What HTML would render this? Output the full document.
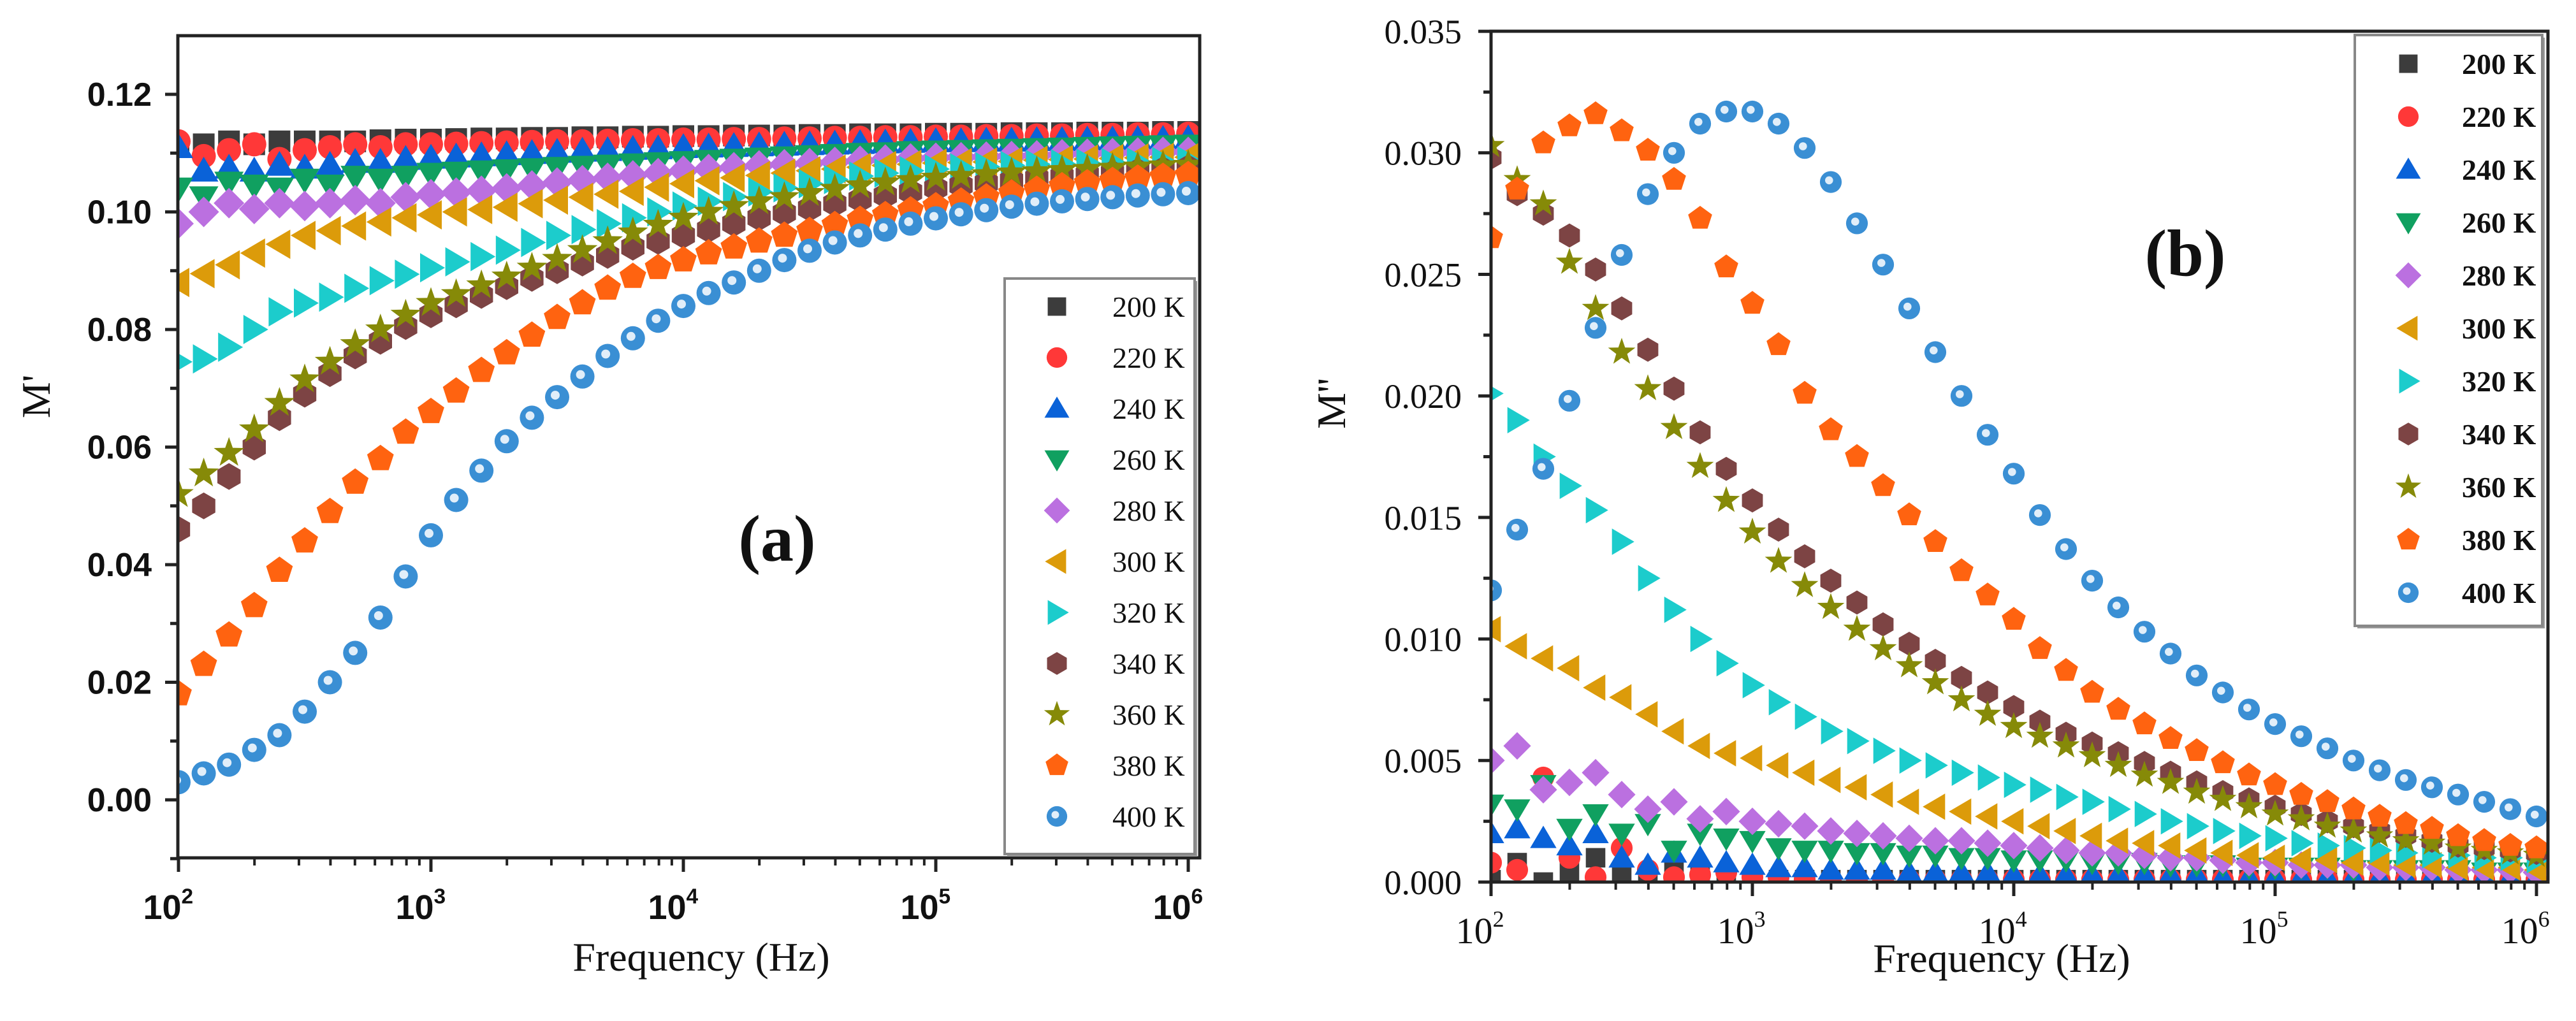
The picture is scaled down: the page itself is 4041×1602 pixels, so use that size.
<!DOCTYPE html>
<html><head><meta charset="utf-8">
<style>
html,body{margin:0;padding:0;background:#fff;}
svg{display:block;}
.sans{font-family:"Liberation Sans",Arial,sans-serif;}
.serif{font-family:"Liberation Serif","Times New Roman",serif;}
</style></head>
<body>
<svg id="fig" width="4041" height="1602" viewBox="0 0 4041 1602" xmlns="http://www.w3.org/2000/svg">
  <rect x="0" y="0" width="4041" height="1602" fill="#fff"/>
  <g id="panelA"></g>
  <g id="panelB"></g>
</svg>
<script>
// ---- shared data ----
const temps = ["200 K","220 K","240 K","260 K","280 K","300 K","320 K","340 K","360 K","380 K","400 K"];
const logFreq = [2.0,2.1,2.2,2.3,2.4,2.5,2.6,2.7,2.8,2.9,3.0,3.1,3.2,3.3,3.4,3.5,3.6,3.7,3.8,3.9,4.0,4.1,4.2,4.3,4.4,4.5,4.6,4.7,4.8,4.9,5.0,5.1,5.2,5.3,5.4,5.5,5.6,5.7,5.8,5.9,6.0];

// ---- panel (a): M' values x1000 ----
const a200 = [111,111.5,112,111.5,112,112,112,112,112.2,112.3,112.3,112.4,112.5,112.5,112.6,112.6,112.7,112.7,112.8,112.8,112.9,112.9,113,113,113,113.1,113.1,113.2,113.2,113.2,113.3,113.3,113.3,113.4,113.4,113.4,113.5,113.5,113.5,113.6,113.6];
const a220 = [112,109.5,110.5,111.5,109,110.5,111,111.5,111,111.5,111.5,111.6,111.7,111.8,111.9,112,112,112.1,112.2,112.2,112.3,112.3,112.4,112.4,112.5,112.5,112.6,112.6,112.7,112.7,112.8,112.8,112.9,112.9,113,113,113.1,113.1,113.2,113.2,113.3];
const a240 = [111,107,107.5,107,108,107.5,108,108.5,108.5,109,109.2,109.4,109.6,109.8,110,110.2,110.4,110.5,110.7,110.8,111,111.1,111.2,111.3,111.4,111.5,111.6,111.7,111.8,111.9,112,112,112.1,112.1,112.2,112.2,112.3,112.3,112.4,112.4,112.5];
const a260 = [104,102.5,105,104.5,104,105.5,104.5,106,105.5,106,106.5,106.7,106.9,107.1,107.3,107.5,107.7,107.9,108.1,108.3,108.5,108.7,108.9,109.1,109.3,109.5,109.7,109.9,110,110.2,110.3,110.4,110.5,110.6,110.7,110.8,110.9,111,111.1,111.2,111.3];
const a280 = [98,100,101.5,100.5,101.5,101,101.5,102,101.5,102.5,103,103.3,103.6,104,104.5,105,105.4,105.8,106.2,106.6,107,107.3,107.6,107.9,108.1,108.3,108.5,108.7,108.9,109.1,109.2,109.3,109.4,109.5,109.6,109.8,109.9,110,110.1,110.2,110.2];
const a300 = [88,89.5,91,93,94.5,96,96.8,97.6,98.3,99,99.5,100,100.4,100.8,101.4,102,102.5,103,103.5,104.2,104.8,105.3,105.8,106.2,106.6,107,107.3,107.6,107.9,108.1,108.3,108.4,108.5,108.6,108.8,108.9,109,109.1,109.2,109.3,109.3];
const a320 = [74.5,75,77,80,83,84.5,85.5,87,88.3,89.4,90.5,91.5,92.4,93.5,94.8,96,97,98,99,100,101,101.8,102.6,103.4,104.1,104.8,105.5,106.1,106.6,107,107.3,107.5,107.7,107.9,108.1,108.2,108.3,108.4,108.5,108.6,108.7];
const a340 = [46,50,55,60,65,69,72.5,75.5,78,80.5,82.5,84.2,85.8,87.3,88.7,90,91.3,92.6,94,95,96,97,98,99,99.8,100.6,101.4,102.1,102.8,103.4,104,104.5,104.9,105.3,105.7,106,106.3,106.6,106.9,107.2,107.5];
const a360 = [52,55.5,59,63,67.5,71.5,74.5,77.5,80,82.5,84.5,86,87.5,89,90.5,92,93.5,95,96.5,97.8,99,100,101,101.8,102.5,103.2,103.9,104.5,105,105.4,105.8,106.1,106.4,106.7,106.9,107.1,107.3,107.5,107.7,107.9,108];
const a380 = [18,23,28,33,39,44,49,54,58,62.5,66,69.5,73,76,79,82,84.5,87,89,90.5,91.8,93,94,95,96,96.8,97.8,98.7,99.5,100.3,101,101.8,102.5,103.2,103.8,104.4,104.9,105.3,105.7,106,106.3];
const a400 = [3,4.5,6,8.5,11,15,20,25,31,38,45,51,56,61,65,68.5,72,75.5,78.5,81.5,84,86.2,88,90,91.8,93.4,94.8,96,97,98,98.9,99.6,100.3,100.9,101.4,101.8,102.2,102.5,102.8,103,103.2];
const aTicksY = ["0.00","0.02","0.04","0.06","0.08","0.10","0.12"];
const aTickVals = [0,0.02,0.04,0.06,0.08,0.10,0.12];

// ---- panel (b): M'' values x10000 ----
const b200 = [1,8,0,4,10,3,2,6,2,1,1,1,1,1,1,1,1,1,1,1,1,1,1,1,1,1,1,1,1,1,1,1,1,1,1,1,1,1,1,1,1];
const b220 = [8,5,43,10,2,14,5,2,3,4,2,2,1,1,1,1,1,1,1,1,1,1,1,1,1,1,1,1,1,1,1,1,1,1,1,1,1,1,1,1,1];
const b240 = [20,22,18,15,20,10,7,12,10,8,7,6,6,5,5,5,4,4,4,4,3,3,3,3,3,3,3,3,2,2,2,2,2,2,2,2,2,2,2,2,2];
const b260 = [32,30,40,22,28,20,24,13,20,18,17,14,13,13,12,12,11,11,10,10,9,9,9,8,8,8,7,7,7,6,6,6,6,5,5,5,5,5,4,4,4];
const b280 = [50,56,38,41,45,36,30,33,26,29,25,24,23,21,20,19,18,17,17,16,15,14,13,12,12,11,10,10,9,8,8,7,7,7,6,6,6,5,5,5,4];
const b300 = [104,97,92,88,80,76,69,62,56,53,51,48,45,42,39,36,33,31,29,27,25,23,21,19,17,16,15,13,12,11,10,9,9,8,8,7,7,6,6,6,5];
const b320 = [201,190,175,163,153,140,125,112,100,90,81,74,68,62,58,54,50,48,45,43,40,38,35,33,30,28,25,23,21,19,18,16,15,14,13,12,11,11,10,10,9];
const b340 = [298,283,275,266,252,236,219,203,185,170,157,145,134,124,115,106,98,91,84,78,72,66,61,57,53,49,45,41,37,34,31,28,25,23,21,19,17,15,14,13,12];
const b360 = [303,289,279,255,236,218,203,187,171,157,144,132,122,113,104,96,89,82,75,69,64,60,56,52,48,44,41,37,34,31,28,26,23,21,19,17,16,14,13,12,11];
const b380 = [265,285,304,311,316,309,301,289,273,253,238,221,201,186,175,163,151,140,128,118,108,96,87,78,71,65,59,54,49,44,40,36,33,30,27,24,22,19,17,15,14];
const b400 = [120,145,170,198,228,258,283,300,312,317,317,312,302,288,271,254,236,218,200,184,168,151,137,124,113,103,94,85,78,71,65,60,55,50,46,42,39,36,33,30,27];
const bTicksY = ["0.000","0.005","0.010","0.015","0.020","0.025","0.030","0.035"];
const bTickVals = [0,0.005,0.010,0.015,0.020,0.025,0.030,0.035];
const xTickExps = ["2","3","4","5","6"];

const aSeries = [a200,a220,a240,a260,a280,a300,a320,a340,a360,a380,a400];
const bSeries = [b200,b220,b240,b260,b280,b300,b320,b340,b360,b380,b400];
const shapes = ["square","circle","up","down","diamond","left","right","hexagon","star","pentagon","sphere"];
const colors = ["#3c3c3c","#ff3838","#0a62d8","#10a060","#bb70e0","#dc9b0a","#1ccccc","#7d4444","#868a08","#ff6310","#3a8fd4"];

const NS = "http://www.w3.org/2000/svg";
function mk(tag, attrs, parent){
  const e = document.createElementNS(NS, tag);
  for (const k in attrs) e.setAttribute(k, attrs[k]);
  if (parent) parent.appendChild(e);
  return e;
}
function poly(pts){ return pts.map(p=>p[0].toFixed(1)+","+p[1].toFixed(1)).join(" "); }
function regular(n, r, rot){ const p=[]; for(let i=0;i<n;i++){const a=rot+i*2*Math.PI/n;p.push([r*Math.cos(a),r*Math.sin(a)]);} return p; }

function marker(parent, shape, cx, cy, r, color){
  const g = mk("g", {transform:"translate("+cx.toFixed(1)+","+cy.toFixed(1)+")"}, parent);
  let pts=null;
  if (shape==="square") mk("rect",{x:-r*0.85,y:-r*0.85,width:r*1.7,height:r*1.7,fill:color},g);
  else if (shape==="circle") mk("circle",{r:r*0.95,fill:color},g);
  else if (shape==="sphere"){ mk("circle",{r:r*0.95,fill:color},g); mk("circle",{cx:-r*0.15,cy:-r*0.15,r:r*0.35,fill:"#ffffff",opacity:0.85},g); }
  else if (shape==="up") pts=[[0,-r*1.1],[r*1.15,r*0.85],[-r*1.15,r*0.85]];
  else if (shape==="down") pts=[[0,r*1.1],[r*1.15,-r*0.85],[-r*1.15,-r*0.85]];
  else if (shape==="left") pts=[[-r*1.1,0],[r*0.85,-r*1.15],[r*0.85,r*1.15]];
  else if (shape==="right") pts=[[r*1.1,0],[-r*0.85,-r*1.15],[-r*0.85,r*1.15]];
  else if (shape==="diamond") pts=[[0,-r*1.2],[r*1.2,0],[0,r*1.2],[-r*1.2,0]];
  else if (shape==="hexagon") pts=regular(6,r*1.05,Math.PI/6);
  else if (shape==="pentagon") pts=regular(5,r*1.1,-Math.PI/2);
  else if (shape==="star"){ pts=[]; for(let i=0;i<10;i++){const rr=i%2?r*0.5:r*1.25;const a=-Math.PI/2+i*Math.PI/5;pts.push([rr*Math.cos(a),rr*Math.sin(a)]);} }
  if (pts) mk("polygon",{points:poly(pts),fill:color},g);
  return g;
}

function buildPanel(cfg){
  const P = document.getElementById(cfg.id);
  const xs = e => cfg.x2 + (e-2)*cfg.dec;
  const ys = v => cfg.y0 - (v-cfg.v0)*cfg.pxPerUnit;
  const cid = cfg.id+"clip";
  const defs = mk("defs",{},P);
  const cp = mk("clipPath",{id:cid},defs);
  mk("rect",{x:cfg.L,y:cfg.T,width:cfg.R-cfg.L,height:cfg.B-cfg.T},cp);
  const dg = mk("g",{"clip-path":"url(#"+cid+")"},P);
  
  
  for (let s=0;s<cfg.series.length;s++){
    const sg = mk("g",{},dg);
    
    
    const arr = cfg.series[s];
    for (let i=0;i<arr.length;i++){
      const m = marker(sg, shapes[s], xs(logFreq[i]), ys(arr[i]*cfg.scale), cfg.r, colors[s]);
      
      
    }
  }
  const fr = mk("rect",{x:cfg.L,y:cfg.T,width:cfg.R-cfg.L,height:cfg.B-cfg.T,fill:"none",stroke:"#222",'stroke-width':5},P);
  
  
  const yt = mk("g",{},P);
  
  
  for (let i=0;i<cfg.yVals.length;i++){
    const y = ys(cfg.yVals[i]);
    mk("line",{x1:cfg.L-20,x2:cfg.L,y1:y,y2:y,stroke:"#222",'stroke-width':5},yt);
    const t = mk("text",{x:cfg.ylabX,y:y+cfg.yFont*0.35,'text-anchor':"end",'font-size':cfg.yFont,'font-weight':cfg.yBold?"bold":"normal",fill:"#111",class:cfg.yFam},yt);
    t.textContent = cfg.yLabels[i];
    
    
    if (i<cfg.yVals.length-1){
      const ym = ys((cfg.yVals[i]+cfg.yVals[i+1])/2);
      mk("line",{x1:cfg.L-12,x2:cfg.L,y1:ym,y2:ym,stroke:"#222",'stroke-width':5},yt);
    }
  }
  if (cfg.minorBelow){ const yb=ys(cfg.yVals[0]-(cfg.yVals[1]-cfg.yVals[0])/2); mk("line",{x1:cfg.L-12,x2:cfg.L,y1:yb,y2:yb,stroke:"#222",'stroke-width':5},yt); }
  const xt = mk("g",{},P);
  
  
  for (let k=0;k<xTickExps.length;k++){
    const e = +xTickExps[k];
    const x = xs(e);
    mk("line",{x1:x,x2:x,y1:cfg.B,y2:cfg.B+22,stroke:"#222",'stroke-width':5},xt);
    if (k<xTickExps.length-1){
      for (let m=2;m<=9;m++){ const xm = xs(e+Math.log10(m)); mk("line",{x1:xm,x2:xm,y1:cfg.B,y2:cfg.B+12,stroke:"#222",'stroke-width':4},xt); }
    }
    const t = mk("text",{x:x-cfg.xFont*0.3,y:cfg.xlabY,'text-anchor':"middle",'font-size':cfg.xFont,'font-weight':cfg.yBold?"bold":"normal",fill:"#111",class:cfg.yFam},xt);
    t.textContent = "10";
    const sup = mk("tspan",{dy:-cfg.xFont*0.45,'font-size':cfg.xFont*0.62},t);
    sup.textContent = xTickExps[k];
    
    
  }
  const xtl = mk("text",{x:cfg.xTitleX,y:cfg.xTitleY,'text-anchor':"middle",'font-size':64,fill:"#111",class:"serif"},P);
  xtl.textContent = "Frequency (Hz)";
  
  
  const ytl = mk("text",{x:0,y:0,transform:"translate("+cfg.yTitleX+","+cfg.yTitleY+") rotate(-90)",'text-anchor':"middle",'font-size':64,fill:"#111",class:"serif"},P);
  ytl.textContent = cfg.yTitle;
  
  
  const pl = mk("text",{x:cfg.letterX,y:cfg.letterY,'text-anchor':"middle",'font-size':104,'font-weight':"bold",fill:"#111",class:"serif"},P);
  pl.textContent = cfg.letter;
  
  
  const lg = mk("g",{},P);
  
  
  mk("rect",{x:cfg.lg.x+4,y:cfg.lg.y+4,width:cfg.lg.w,height:cfg.lg.h,fill:"#999"},lg);
  mk("rect",{x:cfg.lg.x,y:cfg.lg.y,width:cfg.lg.w,height:cfg.lg.h,fill:"#fff",stroke:"#888",'stroke-width':4},lg);
  for (let s=0;s<temps.length;s++){
    const ry = cfg.lg.row0 + s*cfg.lg.step;
    const eg = mk("g",{},lg);
    
    
    marker(eg, shapes[s], cfg.lg.mx, ry, 17, colors[s]);
    const t = mk("text",{x:cfg.lg.tx,y:ry+16,'font-size':46,'font-weight':cfg.lg.bold?"bold":"normal",fill:"#111",class:"serif"},eg);
    t.textContent = temps[s];
  }
}

buildPanel({id:"panelA", series:aSeries, scale:0.001, L:279, R:1882, T:56, B:1346,
  x2:280, dec:396, y0:1255, v0:0, pxPerUnit:9225, r:20,
  yVals:aTickVals, yLabels:aTicksY, ylabX:238, yFont:52, yBold:true, yFam:"sans", minorBelow:true,
  xlabY:1442, xFont:54, xTitleX:1100, xTitleY:1523, yTitleX:78, yTitleY:622, yTitle:"M'",
  letter:"(a)", letterX:1219, letterY:880,
  lg:{x:1576,y:437,w:298,h:903,row0:481,step:80,mx:1658,tx:1745,bold:false}});

buildPanel({id:"panelB", series:bSeries, scale:0.0001, L:2339, R:3997, T:49, B:1384,
  x2:2339, dec:410, y0:1384, v0:0, pxPerUnit:38140, r:18,
  yVals:bTickVals, yLabels:bTicksY, ylabX:2293, yFont:54, yBold:false, yFam:"serif", minorBelow:false,
  xlabY:1480, xFont:58, xTitleX:3140, xTitleY:1525, yTitleX:2110, yTitleY:633, yTitle:"M''",
  letter:"(b)", letterX:3428, letterY:432,
  lg:{x:3694,y:55,w:294,h:927,row0:100,step:83,mx:3778,tx:3862,bold:true}});
</script>
</body></html>
